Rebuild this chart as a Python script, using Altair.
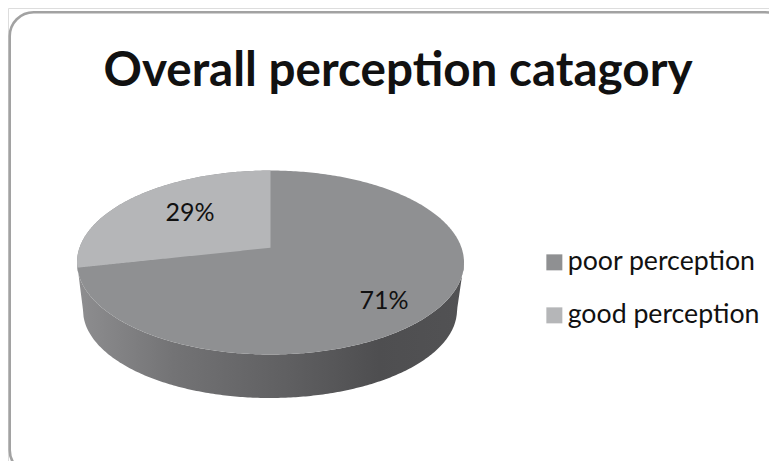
import altair as alt
import numpy as np
import pandas as pd

# Chart content
title_text = "Overall perception catagory"
categories = ["poor perception", "good perception"]
shares = [71, 29]
labels = ["71%", "29%"]
colors = ["#8f9092", "#b5b6b8"]

# Outline of the tilted pie in the chart's own units
CX, CY, RX, RY = 262.5, 254.5, 193.5, 92.0       # top face
HUB = (263.0, 239.7)                             # where the slices meet
EDGE = (69.3, 259.7)                             # where the good slice meets the rim
BX, BY, BRX, BRY = 262.0, 302.0, 187.0, 88.0     # bottom rim


def ellipse_half(x, cx, cy, rx, ry, sign):
    return cy + sign * ry * np.sqrt(np.clip(1 - ((x - cx) / rx) ** 2, 0, 1))


xs = CX + RX * np.cos(np.linspace(np.pi, 0, 241))
top_up = ellipse_half(xs, CX, CY, RX, RY, -1)
top_lo = ellipse_half(xs, CX, CY, RX, RY, 1)

# side wall: from the top face's lower rim to the bottom rim
bot = ellipse_half(np.clip(xs, BX - BRX, BX + BRX), BX, BY, BRX, BRY, 1)
left_side = xs < BX - BRX
right_side = xs > BX + BRX
bot[left_side] = np.interp(xs[left_side], [CX - RX, BX - BRX], [CY, BY])
bot[right_side] = np.interp(xs[right_side], [BX + BRX, CX + RX], [BY, CY])
wall = pd.DataFrame({"x": xs, "y": top_lo, "y2": bot})

poor = pd.DataFrame({"x": xs, "y": top_up, "y2": top_lo, "cat": categories[0]})

gx = xs[xs <= HUB[0]]
g_up = ellipse_half(gx, CX, CY, RX, RY, -1)
g_lo = np.interp(gx, [EDGE[0], HUB[0]], [EDGE[1], HUB[1]])
g_lo = np.minimum(g_lo, ellipse_half(gx, CX, CY, RX, RY, 1))
good = pd.DataFrame({"x": gx, "y": g_up, "y2": g_lo, "cat": categories[1]})

X = alt.X("x:Q", axis=None, scale=alt.Scale(domain=[0, 761], range=[0, 761]))
Y = alt.Y("y:Q", axis=None, scale=alt.Scale(domain=[0, 453], range=[0, 453]))
color_scale = alt.Scale(domain=categories, range=colors)

frame = alt.Chart(pd.DataFrame({"x": [1.7], "x2": [781], "y": [4.2], "y2": [466]})).mark_rect(
    fill="white", stroke="#a2a2a2", strokeWidth=2.6, cornerRadius=24, clip=False
).encode(x=X, x2="x2:Q", y=Y, y2="y2:Q")

wall_layer = alt.Chart(wall).mark_area(
    color=alt.Gradient(
        gradient="linear", x1=0, x2=1, y1=0, y2=0,
        stops=[
            alt.GradientStop(color="#8e8e90", offset=0),
            alt.GradientStop(color="#737375", offset=0.25),
            alt.GradientStop(color="#5f5f61", offset=0.55),
            alt.GradientStop(color="#4e4e50", offset=0.78),
            alt.GradientStop(color="#525254", offset=1),
        ],
    )
).encode(x=X, y=Y, y2="y2:Q")

legend = alt.Legend(
    title=None, orient="none", legendX=533, legendY=241, symbolType="square",
    symbolSize=256, symbolStrokeWidth=0, symbolOpacity=1, labelFont="Lato",
    labelFontSize=26.7, labelColor="#111111", rowPadding=25, labelOffset=0,
    labelLimit=260,
)
poor_layer = alt.Chart(poor).mark_area().encode(
    x=X, y=Y, y2="y2:Q",
    color=alt.Color("cat:N", scale=color_scale, legend=legend, sort=categories),
)
good_layer = alt.Chart(good).mark_area().encode(
    x=X, y=Y, y2="y2:Q",
    color=alt.Color("cat:N", scale=color_scale, legend=legend, sort=categories),
)

text_df = pd.DataFrame({"x": [376, 182], "y": [292.5, 205], "t": labels, "share": shares})
text_layer = alt.Chart(text_df).mark_text(
    font="Lato", fontSize=25, color="#111111", align="center", baseline="middle"
).encode(x=X, y=Y, text="t:N")

chart = alt.layer(frame, wall_layer, poor_layer, good_layer, text_layer).properties(
    width=761, height=453, padding=0, autosize=alt.AutoSizeParams(type="none"),
    title=alt.Title(
        title_text, font="Lato", fontSize=47.6, fontWeight="bold", color="#111111",
        anchor="middle", offset=-126, dx=9.5, baseline="alphabetic",
    ),
).configure_view(stroke=None).configure(background="white")

chart.save("out.html", embed_options={"renderer": "svg", "actions": False})
